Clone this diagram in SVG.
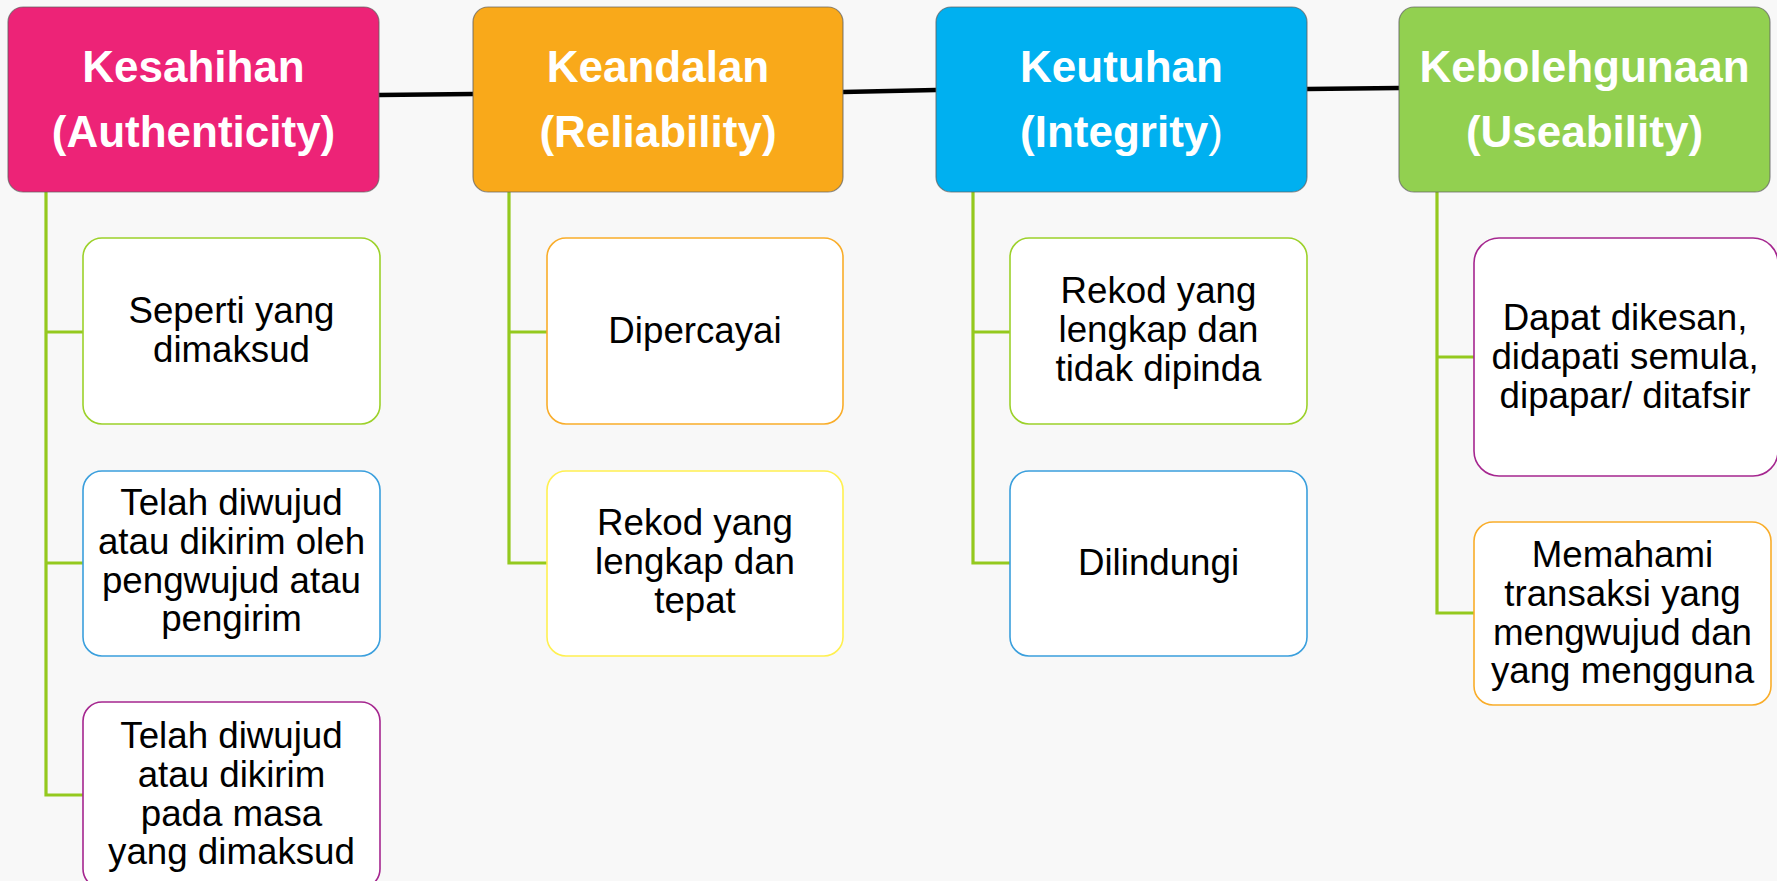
<svg xmlns="http://www.w3.org/2000/svg" width="1777" height="881" viewBox="0 0 1777 881">
<style>
.hbox{stroke:#5f5f5f;stroke-opacity:0.7;stroke-width:1.2}
.cbox{fill:#ffffff;stroke-width:1.6}
.htxt{font-family:"Liberation Sans",Arial,sans-serif;font-weight:bold;font-size:44px;fill:#ffffff;text-anchor:middle}
.ctxt{font-family:"Liberation Sans",Arial,sans-serif;font-size:36.7px;fill:#000000;text-anchor:middle}
.tree{fill:none;stroke:#94C91E;stroke-width:3.2}
.main{fill:none;stroke:#000000;stroke-width:4.5}
</style>
<rect x="0" y="0" width="1777" height="881" fill="#f8f8f8"/>
<g id="connectors">
<line class="main" x1="379" y1="95" x2="473" y2="94"/>
<line class="main" x1="843" y1="92" x2="936" y2="90"/>
<line class="main" x1="1307" y1="89" x2="1399" y2="88"/>
<polyline class="tree" points="46,192 46,795 83,795"/>
<line class="tree" x1="46" y1="332" x2="83" y2="332"/>
<line class="tree" x1="46" y1="563" x2="83" y2="563"/>
<polyline class="tree" points="509,192 509,563 547,563"/>
<line class="tree" x1="509" y1="332" x2="547" y2="332"/>
<polyline class="tree" points="973,192 973,563 1010,563"/>
<line class="tree" x1="973" y1="332" x2="1010" y2="332"/>
<polyline class="tree" points="1437,192 1437,613 1474,613"/>
<line class="tree" x1="1437" y1="357" x2="1474" y2="357"/>
</g>
<g id="kesahihan">
<rect class="hbox" x="8" y="7" width="371" height="185" rx="15" fill="#ED2377"/>
<text class="htxt" x="193.5" y="82">Kesahihan</text>
<text class="htxt" x="193.5" y="147">(Authenticity)</text>
</g>
<g id="keandalan">
<rect class="hbox" x="473" y="7" width="370" height="185" rx="15" fill="#F9A91A"/>
<text class="htxt" x="658" y="82">Keandalan</text>
<text class="htxt" x="658" y="147">(Reliability)</text>
</g>
<g id="keutuhan">
<rect class="hbox" x="936" y="7" width="371" height="185" rx="15" fill="#00B0F0"/>
<text class="htxt" x="1121.5" y="82">Keutuhan</text>
<text class="htxt" x="1121.5" y="147">(Integrity<tspan font-weight="normal">)</tspan></text>
</g>
<g id="kebolehgunaan">
<rect class="hbox" x="1399" y="7" width="371" height="185" rx="15" fill="#92D050"/>
<text class="htxt" x="1584.5" y="82">Kebolehgunaan</text>
<text class="htxt" x="1584.5" y="147">(Useability)</text>
</g>
<g id="seperti">
<rect class="cbox" x="83" y="238" width="297" height="186" rx="19" stroke="#9CD12A"/>
<text class="ctxt" x="231.5" y="323">Seperti yang</text>
<text class="ctxt" x="231.5" y="362">dimaksud</text>
</g>
<g id="telah1">
<rect class="cbox" x="83" y="471" width="297" height="185" rx="19" stroke="#3A9FDD"/>
<text class="ctxt" x="231.5" y="515">Telah diwujud</text>
<text class="ctxt" x="231.5" y="554">atau dikirim oleh</text>
<text class="ctxt" x="231.5" y="593">pengwujud atau</text>
<text class="ctxt" x="231.5" y="631">pengirim</text>
</g>
<g id="telah2">
<rect class="cbox" x="83" y="702" width="297" height="186" rx="19" stroke="#A5268F"/>
<text class="ctxt" x="231.5" y="748">Telah diwujud</text>
<text class="ctxt" x="231.5" y="787">atau dikirim</text>
<text class="ctxt" x="231.5" y="826">pada masa</text>
<text class="ctxt" x="231.5" y="864">yang dimaksud</text>
</g>
<g id="dipercayai">
<rect class="cbox" x="547" y="238" width="296" height="186" rx="19" stroke="#F9AD2A"/>
<text class="ctxt" x="695" y="343">Dipercayai</text>
</g>
<g id="rekod1">
<rect class="cbox" x="547" y="471" width="296" height="185" rx="19" stroke="#FFF050"/>
<text class="ctxt" x="695" y="535">Rekod yang</text>
<text class="ctxt" x="695" y="574">lengkap dan</text>
<text class="ctxt" x="695" y="613">tepat</text>
</g>
<g id="rekod2">
<rect class="cbox" x="1010" y="238" width="297" height="186" rx="19" stroke="#9CD12A"/>
<text class="ctxt" x="1158.5" y="303">Rekod yang</text>
<text class="ctxt" x="1158.5" y="342">lengkap dan</text>
<text class="ctxt" x="1158.5" y="381">tidak dipinda</text>
</g>
<g id="dilindungi">
<rect class="cbox" x="1010" y="471" width="297" height="185" rx="19" stroke="#3A9FDD"/>
<text class="ctxt" x="1158.5" y="575">Dilindungi</text>
</g>
<g id="dapat">
<rect class="cbox" x="1474" y="238" width="304" height="238" rx="25" stroke="#A5268F"/>
<text class="ctxt" x="1625" y="330">Dapat dikesan,</text>
<text class="ctxt" x="1625" y="369">didapati semula,</text>
<text class="ctxt" x="1625" y="408">dipapar/ ditafsir</text>
</g>
<g id="memahami">
<rect class="cbox" x="1474" y="522" width="297" height="183" rx="19" stroke="#F9AD2A"/>
<text class="ctxt" x="1622.5" y="567">Memahami</text>
<text class="ctxt" x="1622.5" y="606">transaksi yang</text>
<text class="ctxt" x="1622.5" y="645">mengwujud dan</text>
<text class="ctxt" x="1622.5" y="683">yang mengguna</text>
</g>
</svg>
